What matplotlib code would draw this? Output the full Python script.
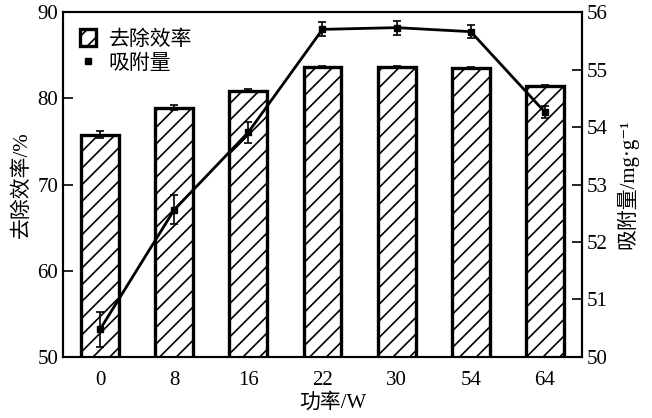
import matplotlib
matplotlib.use("Agg")
import matplotlib.pyplot as plt
from matplotlib.patches import Patch
from matplotlib.lines import Line2D

plt.rcParams['font.family'] = ['Liberation Serif', 'Noto Sans CJK SC', 'DejaVu Serif']
plt.rcParams['hatch.linewidth'] = 1.2

categories = ['0', '8', '16', '22', '30', '54', '64']
removal = [75.8, 78.9, 80.9, 83.6, 83.65, 83.55, 81.45]
removal_err = [0.45, 0.3, 0.2, 0.1, 0.1, 0.1, 0.1]
adsorption = [50.48, 52.56, 53.91, 55.70, 55.73, 55.66, 54.26]
adsorption_err = [0.31, 0.25, 0.18, 0.12, 0.12, 0.11, 0.10]
left_ticks = [50, 60, 70, 80, 90]
right_ticks = [50, 51, 52, 53, 54, 55, 56]

fig = plt.figure(figsize=(6.52, 4.18), dpi=100)
ax = fig.add_axes([0.0966, 0.146, 0.7960, 0.825])
x = list(range(len(categories)))
ax.bar(x, removal, width=0.51, color='white', edgecolor='black', linewidth=2.4,
       hatch='//', yerr=removal_err, capsize=3,
       error_kw=dict(elinewidth=1.2, capthick=1.2, ecolor='black'), zorder=2)
ax.set_ylim(50, 90)
ax.set_xlim(-0.5, len(categories) - 0.5)
ax.set_yticks(left_ticks)
ax.set_xticks(x)
ax.set_xticklabels(categories)
ax.tick_params(axis='y', direction='in', length=7, width=1.2, labelsize=15, right=False)
ax.tick_params(axis='x', length=0, labelsize=15, pad=10)
ax.set_ylabel('去除效率/%', fontsize=15, labelpad=4)
ax.set_xlabel('功率/W', fontsize=15)
ax.xaxis.set_label_coords(0.52, -0.105)

ax2 = ax.twinx()
ax2.errorbar(x, adsorption, yerr=adsorption_err, color='black', lw=2, marker='s',
             markersize=5, capsize=3, elinewidth=1.2, capthick=1.2, zorder=3)
ax2.set_ylim(50, 56)
ax2.set_yticks(right_ticks)
ax2.tick_params(axis='y', direction='in', length=7, width=1.2, labelsize=15)
ax2.set_ylabel('吸附量/mg·g⁻¹', fontsize=15, labelpad=6)

for a in (ax, ax2):
    for s in a.spines.values():
        s.set_linewidth(1.5)

handles = [Patch(facecolor='white', edgecolor='black', hatch='//', linewidth=2.4),
           Line2D([], [], color='black', marker='s', linestyle='none', markersize=5)]
ax.legend(handles, ['去除效率', '吸附量'], loc='upper left', frameon=False,
          fontsize=15, handlelength=0.8, handleheight=0.9, handletextpad=0.6,
          borderaxespad=0.4, labelspacing=0.15)

fig.savefig('out.png', dpi=100)
